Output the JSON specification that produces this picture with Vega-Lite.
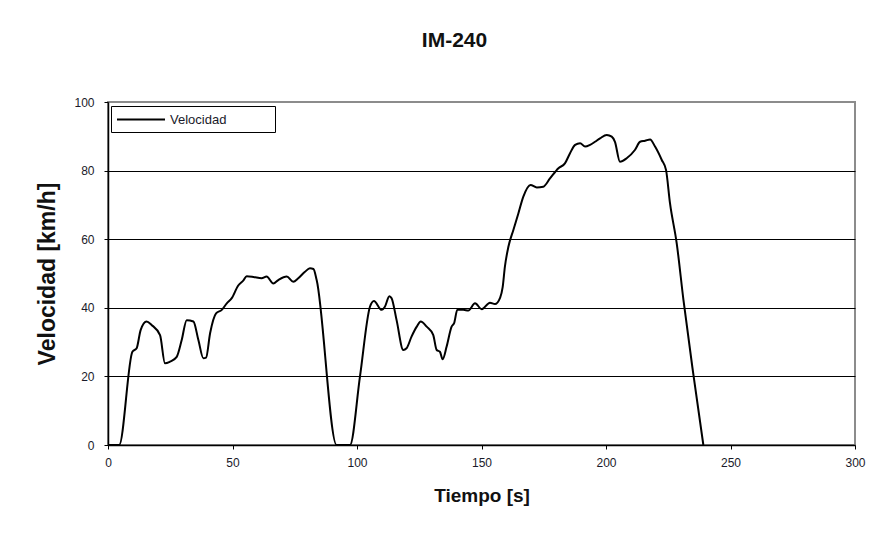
{
  "$schema": "https://vega.github.io/schema/vega-lite/v6.json",
  "width": 747,
  "height": 343,
  "autosize": "none",
  "padding": {"left": 108, "top": 102, "right": 39, "bottom": 90},
  "background": "white",
  "title": {
    "text": "IM-240",
    "font": "Liberation Sans",
    "fontSize": 21,
    "fontWeight": "bold",
    "color": "#111111",
    "anchor": "middle",
    "baseline": "alphabetic",
    "dx": -27,
    "offset": 28
  },
  "config": {
    "view": {"stroke": "#8c8c8c", "strokeWidth": 2},
    "axis": {
      "labelFont": "Liberation Sans",
      "labelFontSize": 12,
      "labelColor": "#1a1a2a",
      "titleFont": "Liberation Sans",
      "titleFontWeight": "bold",
      "titleColor": "#111111",
      "domainColor": "black",
      "domainWidth": 1.5,
      "tickColor": "black",
      "tickSize": 4,
      "tickWidth": 1
    }
  },
  "data": {
    "values": [
      {"t": 0, "v": 0, "serie": "Velocidad"},
      {"t": 4.5, "v": 0, "serie": "Velocidad"},
      {"t": 9.8, "v": 27.2, "serie": "Velocidad"},
      {"t": 11.5, "v": 28.2, "serie": "Velocidad"},
      {"t": 13.1, "v": 33.5, "serie": "Velocidad"},
      {"t": 15.5, "v": 36, "serie": "Velocidad"},
      {"t": 17.5, "v": 35, "serie": "Velocidad"},
      {"t": 20.9, "v": 32, "serie": "Velocidad"},
      {"t": 22.9, "v": 23.8, "serie": "Velocidad"},
      {"t": 24.9, "v": 24.3, "serie": "Velocidad"},
      {"t": 27.6, "v": 25.7, "serie": "Velocidad"},
      {"t": 29.6, "v": 30.6, "serie": "Velocidad"},
      {"t": 31.6, "v": 36.4, "serie": "Velocidad"},
      {"t": 34.3, "v": 36, "serie": "Velocidad"},
      {"t": 36.3, "v": 30.6, "serie": "Velocidad"},
      {"t": 38.3, "v": 25.3, "serie": "Velocidad"},
      {"t": 39.4, "v": 25.5, "serie": "Velocidad"},
      {"t": 41, "v": 32.6, "serie": "Velocidad"},
      {"t": 43.4, "v": 38.4, "serie": "Velocidad"},
      {"t": 45.7, "v": 39.4, "serie": "Velocidad"},
      {"t": 47.7, "v": 41.3, "serie": "Velocidad"},
      {"t": 49.7, "v": 42.8, "serie": "Velocidad"},
      {"t": 52.3, "v": 46.5, "serie": "Velocidad"},
      {"t": 54.4, "v": 48, "serie": "Velocidad"},
      {"t": 55.7, "v": 49.2, "serie": "Velocidad"},
      {"t": 58.4, "v": 49, "serie": "Velocidad"},
      {"t": 61.7, "v": 48.6, "serie": "Velocidad"},
      {"t": 63.7, "v": 49.1, "serie": "Velocidad"},
      {"t": 66.4, "v": 47.1, "serie": "Velocidad"},
      {"t": 68.4, "v": 48.1, "serie": "Velocidad"},
      {"t": 71.8, "v": 49.1, "serie": "Velocidad"},
      {"t": 74.4, "v": 47.6, "serie": "Velocidad"},
      {"t": 76.4, "v": 48.6, "serie": "Velocidad"},
      {"t": 79.1, "v": 50.5, "serie": "Velocidad"},
      {"t": 81.1, "v": 51.5, "serie": "Velocidad"},
      {"t": 82.5, "v": 51.3, "serie": "Velocidad"},
      {"t": 83.8, "v": 48.1, "serie": "Velocidad"},
      {"t": 91.8, "v": 0, "serie": "Velocidad"},
      {"t": 97.2, "v": 0, "serie": "Velocidad"},
      {"t": 101.2, "v": 20, "serie": "Velocidad"},
      {"t": 105.2, "v": 40.3, "serie": "Velocidad"},
      {"t": 106.8, "v": 42, "serie": "Velocidad"},
      {"t": 109.9, "v": 39.4, "serie": "Velocidad"},
      {"t": 111.2, "v": 40.3, "serie": "Velocidad"},
      {"t": 113, "v": 43.4, "serie": "Velocidad"},
      {"t": 113.9, "v": 42.8, "serie": "Velocidad"},
      {"t": 115.9, "v": 36.4, "serie": "Velocidad"},
      {"t": 118.6, "v": 27.7, "serie": "Velocidad"},
      {"t": 119.9, "v": 28.2, "serie": "Velocidad"},
      {"t": 121.9, "v": 31.6, "serie": "Velocidad"},
      {"t": 124, "v": 34.5, "serie": "Velocidad"},
      {"t": 125.6, "v": 36, "serie": "Velocidad"},
      {"t": 128, "v": 34.5, "serie": "Velocidad"},
      {"t": 130.6, "v": 32.1, "serie": "Velocidad"},
      {"t": 132, "v": 27.7, "serie": "Velocidad"},
      {"t": 133.3, "v": 27.2, "serie": "Velocidad"},
      {"t": 134.4, "v": 25, "serie": "Velocidad"},
      {"t": 136, "v": 28.7, "serie": "Velocidad"},
      {"t": 138, "v": 34.5, "serie": "Velocidad"},
      {"t": 139, "v": 35.5, "serie": "Velocidad"},
      {"t": 140.3, "v": 39.4, "serie": "Velocidad"},
      {"t": 142.7, "v": 39.4, "serie": "Velocidad"},
      {"t": 144.7, "v": 39.2, "serie": "Velocidad"},
      {"t": 147.4, "v": 41.3, "serie": "Velocidad"},
      {"t": 150.1, "v": 39.6, "serie": "Velocidad"},
      {"t": 153.4, "v": 41.5, "serie": "Velocidad"},
      {"t": 155.4, "v": 41.1, "serie": "Velocidad"},
      {"t": 157.5, "v": 43, "serie": "Velocidad"},
      {"t": 158.5, "v": 46, "serie": "Velocidad"},
      {"t": 159.4, "v": 52, "serie": "Velocidad"},
      {"t": 160.8, "v": 57.8, "serie": "Velocidad"},
      {"t": 162.8, "v": 62.7, "serie": "Velocidad"},
      {"t": 164.8, "v": 67.5, "serie": "Velocidad"},
      {"t": 166.8, "v": 72.4, "serie": "Velocidad"},
      {"t": 169.7, "v": 75.8, "serie": "Velocidad"},
      {"t": 172.2, "v": 75.1, "serie": "Velocidad"},
      {"t": 174.8, "v": 75.3, "serie": "Velocidad"},
      {"t": 177.5, "v": 77.7, "serie": "Velocidad"},
      {"t": 180.9, "v": 80.7, "serie": "Velocidad"},
      {"t": 183.5, "v": 82.1, "serie": "Velocidad"},
      {"t": 185.5, "v": 85, "serie": "Velocidad"},
      {"t": 187.6, "v": 87.5, "serie": "Velocidad"},
      {"t": 189.6, "v": 88, "serie": "Velocidad"},
      {"t": 191.6, "v": 87, "serie": "Velocidad"},
      {"t": 193.6, "v": 87.5, "serie": "Velocidad"},
      {"t": 195.6, "v": 88.4, "serie": "Velocidad"},
      {"t": 197.6, "v": 89.4, "serie": "Velocidad"},
      {"t": 200.3, "v": 90.4, "serie": "Velocidad"},
      {"t": 202.3, "v": 89.9, "serie": "Velocidad"},
      {"t": 203.6, "v": 88.4, "serie": "Velocidad"},
      {"t": 205.6, "v": 82.6, "serie": "Velocidad"},
      {"t": 208.3, "v": 83.6, "serie": "Velocidad"},
      {"t": 211.6, "v": 86, "serie": "Velocidad"},
      {"t": 213.7, "v": 88.4, "serie": "Velocidad"},
      {"t": 215.7, "v": 88.7, "serie": "Velocidad"},
      {"t": 217.7, "v": 89.1, "serie": "Velocidad"},
      {"t": 219.7, "v": 87, "serie": "Velocidad"},
      {"t": 222.4, "v": 83.1, "serie": "Velocidad"},
      {"t": 224.1, "v": 80.2, "serie": "Velocidad"},
      {"t": 225.7, "v": 70.5, "serie": "Velocidad"},
      {"t": 228.4, "v": 58.8, "serie": "Velocidad"},
      {"t": 231.1, "v": 42.3, "serie": "Velocidad"},
      {"t": 235, "v": 21, "serie": "Velocidad"},
      {"t": 239.1, "v": 0, "serie": "Velocidad"}
    ]
  },
  "mark": {"type": "line", "strokeWidth": 2, "interpolate": "monotone"},
  "encoding": {
    "x": {
      "field": "t",
      "type": "quantitative",
      "scale": {"domain": [0, 300], "nice": false},
      "axis": {
        "title": "Tiempo [s]",
        "titleFontSize": 19,
        "titlePadding": 18,
        "values": [0, 50, 100, 150, 200, 250, 300],
        "grid": false,
        "labelPadding": 8,
        "labelFlush": false
      }
    },
    "y": {
      "field": "v",
      "type": "quantitative",
      "scale": {"domain": [0, 100], "nice": false},
      "axis": {
        "title": "Velocidad [km/h]",
        "titleFontSize": 23,
        "titlePadding": 14,
        "values": [0, 20, 40, 60, 80, 100],
        "grid": true,
        "gridColor": "black",
        "gridWidth": 1.2,
        "gridOpacity": {"condition": {"test": "datum.value === 100 || datum.value === 0", "value": 0}, "value": 1},
        "labelPadding": 10,
        "labelFlush": false
      }
    },
    "color": {
      "field": "serie",
      "type": "nominal",
      "scale": {"range": ["black"]},
      "legend": {
        "title": null,
        "orient": "none",
        "legendX": 3,
        "legendY": 4,
        "direction": "vertical",
        "strokeColor": "black",
        "fillColor": "white",
        "padding": 5,
        "symbolType": "M-1,0L5.4,0",
        "symbolSize": 225,
        "symbolStrokeWidth": 2,
        "symbolStrokeColor": "black",
        "labelOffset": 37,
        "labelFont": "Liberation Sans",
        "labelFontSize": 13,
        "labelColor": "#1a1a2a",
        "labelExpr": "datum.label + '            \u200b'"
      }
    }
  }
}
